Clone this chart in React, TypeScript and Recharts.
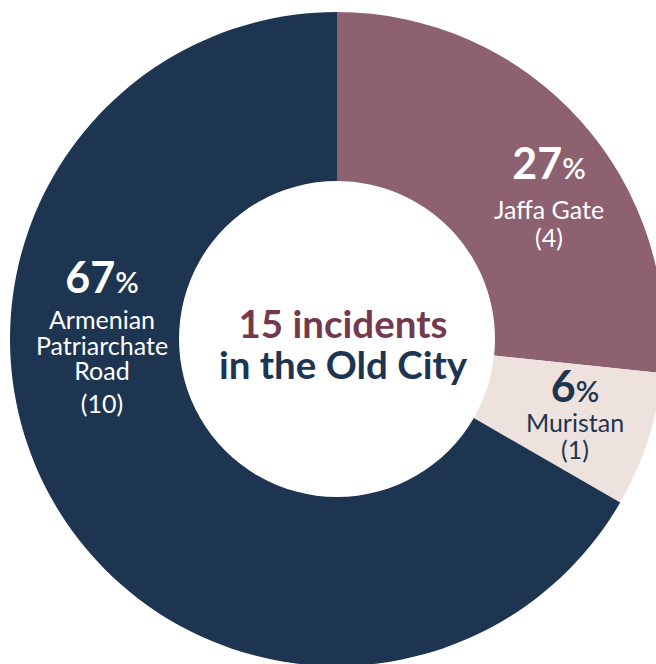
import React from "react";
import { PieChart, Pie, Cell } from "recharts";

const categories = ["Jaffa Gate", "Muristan", "Armenian Patriarchate Road"];
const incidents = [4, 1, 10];
const percentLabels = ["27", "6", "67"];
const nameLines = [["Jaffa Gate"], ["Muristan"], ["Armenian", "Patriarchate", "Road"]];
const centerLines = ["15 incidents", "in the Old City"];

const COLORS = ["#8d6170", "#ede2dd", "#1d3550"];
const TEXT_COLORS = ["#ffffff", "#1d3550", "#ffffff"];
const CENTER_COLORS = ["#733a4e", "#1d3550"];
const FONT = "'Source Sans Pro', Lato, 'Noto Sans', sans-serif";

// label block placement relative to the pie centre (layout only)
const LABEL_LAYOUT = [
  { dx: 212, dy: -160, first: 40, count: 28 },
  { dx: 238, dy: 63, first: 30, count: 27 },
  { dx: -235, dy: -46, first: 36, count: 33 },
];

const data = categories.map((name, i) => ({ name, value: incidents[i] }));

const renderLabel = (props: any) => {
  const { cx, cy, index } = props;
  const lay = LABEL_LAYOUT[index];
  const x = cx + lay.dx;
  const y0 = cy + lay.dy;
  const col = TEXT_COLORS[index];
  const lines = nameLines[index];
  const lineGap = 25.5;
  const countY = y0 + lay.first + (lines.length - 1) * lineGap + lay.count;
  return (
    <g key={`lbl-${index}`}>
      <text x={x} y={y0} textAnchor="middle" fill={col} fontFamily={FONT} fontSize={25} fontWeight={400}>
        <tspan x={x} y={y0} fontSize={43} fontWeight={700}>{percentLabels[index]}</tspan>
        <tspan fontSize={29} fontWeight={600}>%</tspan>
        {lines.map((ln, k) => (
          <tspan key={k} x={x} y={y0 + lay.first + k * lineGap}>
            {ln}
          </tspan>
        ))}
        <tspan x={x} y={countY}>({incidents[index]})</tspan>
      </text>
      {index === 0 && (
        <text x={cx + 6} y={cy - 1} textAnchor="middle" fontFamily={FONT} fontSize={38.5} fontWeight={700}>
          {centerLines.map((ln, k) => (
            <tspan key={k} x={cx + 6} y={cy - 1 + k * 41} fill={CENTER_COLORS[k]}>
              {ln}
            </tspan>
          ))}
        </text>
      )}
    </g>
  );
};

export default function App() {
  return (
    <div style={{ position: "absolute", left: 0, top: 0, width: 656, height: 664, background: "#fff" }}>
      <PieChart width={656} height={664} margin={{ top: 0, right: 0, bottom: 0, left: 0 }}>
        <Pie
          data={data}
          dataKey="value"
          nameKey="name"
          cx={337}
          cy={339}
          innerRadius={158}
          outerRadius={327}
          startAngle={90}
          endAngle={-270}
          stroke="none"
          label={renderLabel}
          labelLine={false}
          isAnimationActive={false}
        >
          {data.map((d, i) => (
            <Cell key={d.name} fill={COLORS[i]} />
          ))}
        </Pie>
      </PieChart>
    </div>
  );
}
